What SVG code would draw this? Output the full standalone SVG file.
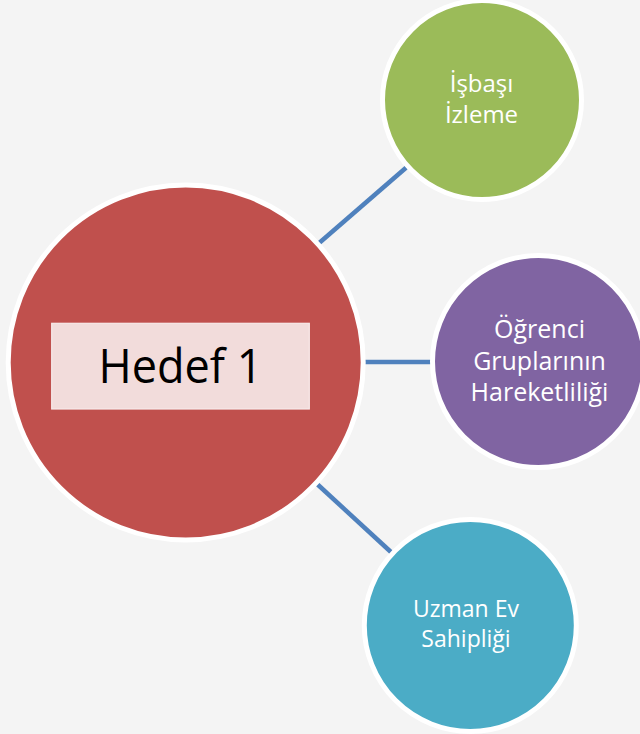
<svg xmlns="http://www.w3.org/2000/svg" width="640" height="734" viewBox="0 0 640 734">
<style>
.bg{fill:#f4f4f4}
.conn{stroke:#4f81bd;stroke-width:4.5;fill:none}
.node{stroke:#ffffff;stroke-width:5}
.lbl{font-family:"Open Sans","Noto Sans","DejaVu Sans",sans-serif;fill:#ffffff;text-anchor:middle}
.main{font-family:"Open Sans","Noto Sans","DejaVu Sans",sans-serif;fill:#000000;text-anchor:middle}
</style>
<rect class="bg" x="0" y="0" width="640" height="734"/>
<g id="connectors">
<line class="conn" x1="318" y1="244" x2="408" y2="166"/>
<line class="conn" x1="362" y1="362" x2="436" y2="362"/>
<line class="conn" x1="316" y1="483" x2="392" y2="553"/>
</g>
<g id="hedef1">
<circle class="node" cx="185.7" cy="362.5" r="177.5" fill="#c0504d"/>
<rect x="51.7" y="323.3" width="257.6" height="85.7" fill="#f2dcdb" stroke="#f7eaea" stroke-width="1.2"/>
<text class="main" x="180.5" y="383.3" font-size="47" textLength="164" lengthAdjust="spacingAndGlyphs">Hedef 1</text>
</g>
<g id="isbasi">
<circle class="node" cx="482" cy="100" r="99.5" fill="#9bbb59"/>
<text class="lbl" font-size="24"><tspan x="481.5" y="91.7">İşbaşı</tspan><tspan x="481.5" y="123.3">İzleme</tspan></text>
</g>
<g id="ogrenci">
<circle class="node" cx="538.5" cy="361.5" r="106" fill="#8064a2"/>
<text class="lbl" font-size="25"><tspan x="539.5" y="338">Öğrenci</tspan><tspan x="539.5" y="370">Gruplarının</tspan><tspan x="539.5" y="401">Hareketliliği</tspan></text>
</g>
<g id="uzman">
<circle class="node" cx="470.3" cy="625.4" r="106" fill="#4bacc6"/>
<text class="lbl" font-size="23"><tspan x="466" y="616.7">Uzman Ev</tspan><tspan x="466" y="646.7">Sahipliği</tspan></text>
</g>
</svg>
